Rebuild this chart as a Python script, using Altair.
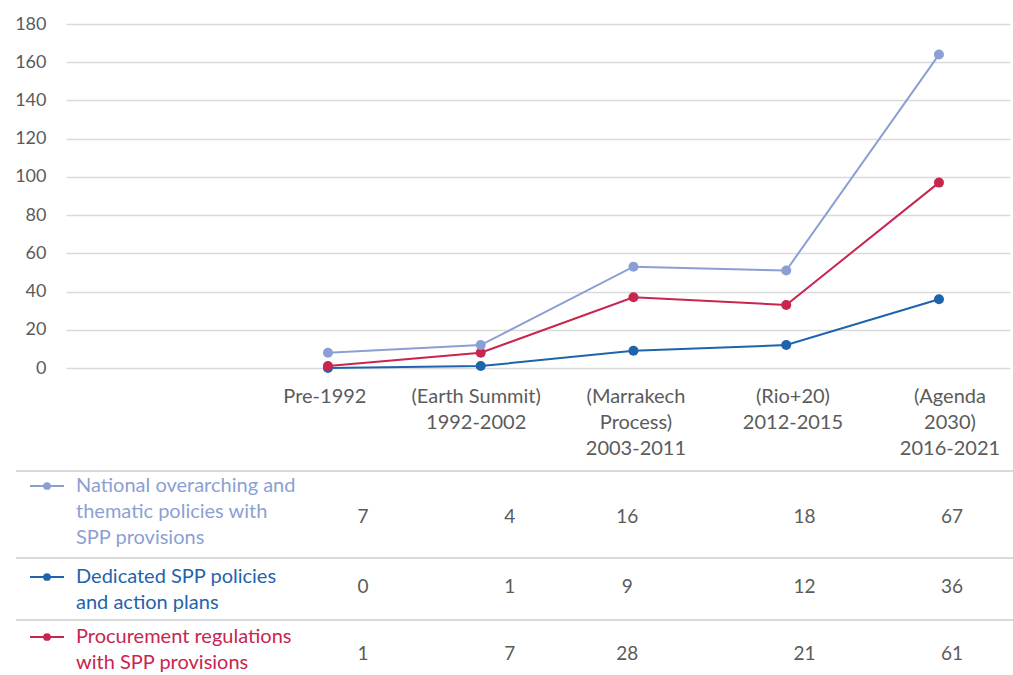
import altair as alt
import pandas as pd

# Periods on the x axis (multi-line labels)
periods = [
    "Pre-1992",
    "(Earth Summit)\n1992-2002",
    "(Marrakech\nProcess)\n2003-2011",
    "(Rio+20)\n2012-2015",
    "(Agenda\n2030)\n2016-2021",
]

# Series, listed from the bottom of the stack upwards
series_names = [
    "Dedicated SPP policies and action plans",
    "Procurement regulations with SPP provisions",
    "National overarching and thematic policies with SPP provisions",
]
dedicated = [0, 1, 9, 12, 36]
procurement = [1, 7, 28, 21, 61]
national = [7, 4, 16, 18, 67]

colors = ["#1f63ad", "#c8254f", "#8c9fd4"]
text_colors = ["#2c6aae", "#c53058", "#8e9fd2"]

# Layout helpers (pixel geometry of the table under the chart)
FONT = "Lato"
GRAY = "#5b5b5b"
GRID = "#dadada"
LABEL_SHIFT = [-0.02, -0.03, 0.016, 0.044, 0.072]
COL_SHIFT = [0.23, 0.19, -0.04, 0.12, 0.085]
ROW_Y = {"National overarching and thematic policies with SPP provisions": 493,
         "Dedicated SPP policies and action plans": 563,
         "Procurement regulations with SPP provisions": 630}
LEGEND_Y = {"National overarching and thematic policies with SPP provisions": 462,
            "Dedicated SPP policies and action plans": 553,
            "Procurement regulations with SPP provisions": 613}
LEGEND_TEXT = {
    "National overarching and thematic policies with SPP provisions":
        ["National overarching and", "thematic policies with", "SPP provisions"],
    "Dedicated SPP policies and action plans":
        ["Dedicated SPP policies", "and action plans"],
    "Procurement regulations with SPP provisions":
        ["Procurement regulations", "with SPP provisions"],
}
SEP_Y = [447, 534, 596]

values_by_series = dict(zip(series_names, [dedicated, procurement, national]))

rows = []
for rank, name in enumerate(series_names):
    for i, v in enumerate(values_by_series[name]):
        rows.append({"series": name, "rank": rank, "idx": i, "value": v,
                     "tx": i + COL_SHIFT[i], "ty": ROW_Y[name]})
df = pd.DataFrame(rows)

labels_df = pd.DataFrame({"label": periods,
                          "lx": [i + s for i, s in enumerate(LABEL_SHIFT)]})

legend_df = pd.DataFrame({"series": series_names,
                          "ly": [LEGEND_Y[n] for n in series_names],
                          "text": [LEGEND_TEXT[n] for n in series_names]})

sep_df = pd.DataFrame({"sy": SEP_Y})

x_scale = alt.Scale(domain=[-1.715, 4.465], nice=False, zero=False)
color_scale = alt.Scale(domain=series_names, range=colors)
text_color_scale = alt.Scale(domain=series_names, range=text_colors)

base = alt.Chart(df).transform_stack(
    stack="value", groupby=["idx"], as_=["y0", "y1"],
    sort=[alt.SortField("rank", order="ascending")],
)

y_enc = alt.Y(
    "y1:Q",
    scale=alt.Scale(domain=[0, 180], nice=False),
    axis=alt.Axis(values=list(range(0, 181, 20)), title=None, domain=False,
                  ticks=False, labelPadding=20, labelFont=FONT,
                  labelFontSize=18, labelColor=GRAY, gridColor=GRID,
                  gridWidth=1.5),
)
x_enc = alt.X("idx:Q", scale=x_scale, axis=None)
c_enc = alt.Color("series:N", scale=color_scale, legend=None)

lines = base.mark_line(strokeWidth=2).encode(x=x_enc, y=y_enc, color=c_enc,
                                             detail="series:N")
points = base.mark_circle(size=100, opacity=1).encode(x=x_enc, y=y_enc,
                                                      color=c_enc)

period_labels = alt.Chart(labels_df).mark_text(
    font=FONT, fontSize=20, color=GRAY, baseline="top", align="center",
    lineBreak="\n", lineHeight=26,
).encode(x=alt.X("lx:Q", scale=x_scale, axis=None), y=alt.value(363),
         text="label:N")

table_values = alt.Chart(df).mark_text(
    font=FONT, fontSize=19, color=GRAY, baseline="middle", align="center",
).encode(x=alt.X("tx:Q", scale=x_scale, axis=None),
         y=alt.Y("ty:Q", scale=None), text="value:Q")

separators = alt.Chart(sep_df).mark_rule(color=GRID, strokeWidth=2).encode(
    x=alt.value(-50), x2=alt.value(947), y=alt.Y("sy:Q", scale=None))

legend_lines = alt.Chart(legend_df).mark_rule(strokeWidth=2).encode(
    x=alt.value(-36), x2=alt.value(-2), y=alt.Y("ly:Q", scale=None),
    color=c_enc)
legend_dots = alt.Chart(legend_df).mark_circle(size=60, opacity=1).encode(
    x=alt.value(-19), y=alt.Y("ly:Q", scale=None), color=c_enc)
legend_text = alt.Chart(legend_df).mark_text(
    font=FONT, fontSize=20, align="left", baseline="middle", lineHeight=26,
).encode(x=alt.value(10), y=alt.Y("ly:Q", scale=None), text="text",
         color=alt.Color("series:N", scale=text_color_scale, legend=None))

chart = alt.layer(
    separators, lines, points, period_labels, table_values,
    legend_lines, legend_dots, legend_text,
).properties(
    width=944, height=344,
    padding={"left": 66, "top": 24, "right": 3, "bottom": 307},
    autosize=alt.AutoSizeParams(type="none"),
    background="white",
).configure_view(stroke=None)

chart.save("out.html", embed_options={"renderer": "svg", "actions": False})
